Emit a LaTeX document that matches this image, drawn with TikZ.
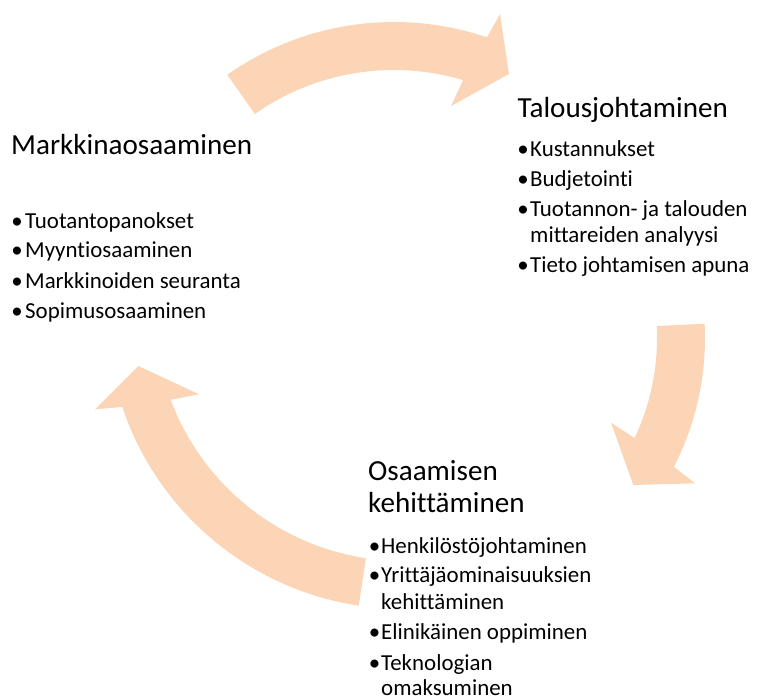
\documentclass[tikz,border=0pt]{standalone}
\usepackage{fontspec}
\setmainfont{Carlito}[Ligatures=NoCommon]
\definecolor{peach}{RGB}{251,213,181}
\begin{document}
\begin{tikzpicture}[x=1pt,y=-1pt,
  ttl/.style={anchor=base west, inner sep=0pt, font=\fontsize{29.1}{35}\selectfont},
  itm/.style={anchor=base west, inner sep=0pt, font=\fontsize{22.9}{27}\selectfont},
  dotb/.style={anchor=base, inner sep=0pt, font=\fontsize{22.9}{27}\selectfont},
  arw/.style={fill=peach, draw=none}]
\useasboundingbox (0,0) rectangle (762,700);

% top arrow (centre 394,312)
\fill[arw] plot[domain=-125.1:-71.3, samples=60] ({394+290*cos(\x)},{312+290*sin(\x)})
  -- (500,14) -- (509,74) -- (451,106)
  -- plot[domain=-73.4:-125.1, samples=60] ({394+242*cos(\x)},{312+242*sin(\x)}) -- cycle;
% right arrow (centre 422,338)
\fill[arw] plot[domain=-2.9:27.1, samples=40] ({422+283*cos(\x)},{338+283*sin(\x)})
  -- (695,483.3) -- (633.3,485) -- (611,422.7)
  -- plot[domain=25.2:-2.9, samples=40] ({422+235*cos(\x)},{338+235*sin(\x)}) -- cycle;
% left arrow (centre 403,313)
\fill[arw] plot[domain=98.6:161.5, samples=60] ({403+296*cos(\x)},{313+296*sin(\x)})
  -- (95,409.3) -- (138.3,366) -- (199,394.3)
  -- plot[domain=159.5:98.6, samples=60] ({403+248*cos(\x)},{313+248*sin(\x)}) -- cycle;

% left block
\node[ttl] (ta) at (11,154.3) {Markkinaosaaminen};
\node[dotb] (da1) at (17,228.3) {•}; \node[itm] (ia1) at (25,228.3) {Tuotantopanokset};
\node[dotb] (da2) at (17,258) {•}; \node[itm] (ia2) at (25,258) {Myyntiosaaminen};
\node[dotb] (da3) at (17,288) {•}; \node[itm] (ia3) at (25,288) {Markkinoiden seuranta};
\node[dotb] (da4) at (17,318) {•}; \node[itm] (ia4) at (25,318) {Sopimusosaaminen};

% right block
\node[ttl] (tb) at (517.5,117.7) {Talousjohtaminen};
\node[dotb] (db1) at (523,156.5) {•}; \node[itm] (ib1) at (530,156.5) {Kustannukset};
\node[dotb] (db2) at (523,187) {•}; \node[itm] (ib2) at (530,187) {Budjetointi};
\node[dotb] (db3) at (523,217) {•}; \node[itm] (ib3) at (530,217) {Tuotannon- ja talouden};
\node[itm] (ib3b) at (530,242.3) {mittareiden analyysi};
\node[dotb] (db4) at (523,272.5) {•}; \node[itm] (ib4) at (530,272.5) {Tieto johtamisen apuna};

% bottom block
\node[ttl] (tc) at (368,480.7) {Osaamisen};
\node[ttl] (tc2) at (368,512.7) {kehittäminen};
\node[dotb] (dc1) at (374.5,553.3) {•}; \node[itm] (ic1) at (381,553.3) {Henkilöstöjohtaminen};
\node[dotb] (dc2) at (374.5,582.7) {•}; \node[itm] (ic2) at (381,582.7) {Yrittäjäominaisuuksien};
\node[itm] (ic2b) at (381,609.3) {kehittäminen};
\node[dotb] (dc3) at (374.5,639.3) {•}; \node[itm] (ic3) at (381,639.3) {Elinikäinen oppiminen};
\node[dotb] (dc4) at (374.5,670) {•}; \node[itm] (ic4) at (381,670) {Teknologian};
\node[itm] (ic4b) at (381,695) {omaksuminen};
\end{tikzpicture}
\end{document}
